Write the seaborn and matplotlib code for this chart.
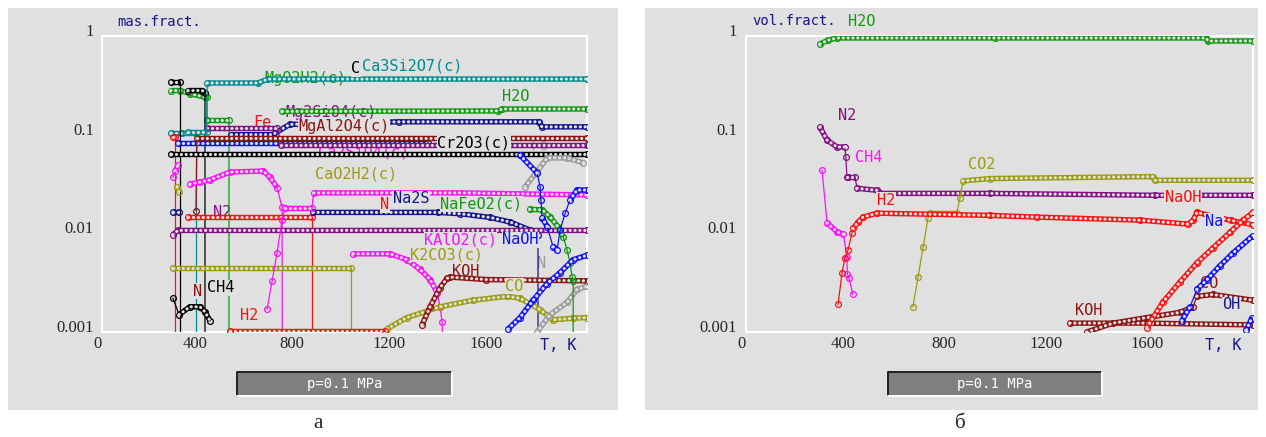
import numpy as np
import matplotlib
matplotlib.use("Agg")
import matplotlib.pyplot as plt
import seaborn as sns
from matplotlib.patches import Rectangle
from matplotlib.lines import Line2D
from matplotlib import transforms
from matplotlib.ticker import NullLocator

OFF = 1e-4   # below the axis: the phase has gone

# ---------------- а) mass fractions ----------------
a_ca3si2o7_T = [371, 448, 450, 660, 700, 2016]
a_ca3si2o7_v = [0.107, 0.107, 0.334, 0.334, 0.366, 0.366]
a_teal_T = [300, 345, 404, 404]
a_teal_v = [0.104, 0.104, 0.104, OFF]
a_mgo2h2_T = [300, 340, 380, 440, 448, 450, 540, 540]
a_mgo2h2_v = [0.28, 0.28, 0.26, 0.24, 0.24, 0.141, 0.141, OFF]
a_h2o_T = [760, 1650, 1665, 2016]
a_h2o_v = [0.172, 0.174, 0.182, 0.182]
a_c1_T = [300, 338, 338]
a_c1_v = [0.34, 0.34, OFF]
a_c2_T = [371, 430, 441, 441]
a_c2_v = [0.28, 0.28, 0.265, OFF]
a_cr2o3_T = [300, 2016]
a_cr2o3_v = [0.064, 0.064]
a_ch4_T = [309, 334, 379, 421, 441, 462]
a_ch4_v = [0.0022, 0.0015, 0.0018, 0.0018, 0.0016, 0.0013]
a_mgal2o4_T = [404, 408, 2016]
a_mgal2o4_v = [0.017, 0.0925, 0.0925]
a_mg2sio4_T = [450, 740, 755, 2016]
a_mg2sio4_v = [0.117, 0.117, 0.078, 0.078]
a_blue_T = [330, 1360]
a_blue_v = [0.082, 0.082]
a_navy_T = [550, 720, 790, 1240, 1820, 1830, 2016]
a_navy_v = [0.1, 0.1, 0.127, 0.135, 0.135, 0.12, 0.12]
a_fe_T = [309, 316, 316]
a_fe_v = [0.095, 0.095, OFF]
a_red_T = [371, 882, 882]
a_red_v = [0.0145, 0.0145, OFF]
a_navy2_T = [309, 334]
a_navy2_v = [0.0163, 0.0163]
a_na2s_T = [887, 1400, 1493, 1616, 1700, 1781, 1814, 1814]
a_na2s_v = [0.0163, 0.0163, 0.0158, 0.0145, 0.013, 0.0108, 0.0096, OFF]
a_purple_T = [309, 330, 2016]
a_purple_v = [0.0097, 0.0107, 0.0107]
a_k2co3_T = [309, 1043, 1043]
a_k2co3_v = [0.0045, 0.0045, OFF]
a_olive_T = [325, 334]
a_olive_v = [0.0295, 0.0263]
a_mag1_T = [309, 318, 330]
a_mag1_v = [0.037, 0.043, 0.049]
a_arc_T = [379, 420, 462, 544, 680, 709, 738, 759, 760]
a_arc_v = [0.0316, 0.033, 0.0348, 0.0418, 0.0428, 0.0372, 0.029, 0.0184, OFF]
a_mag2_T = [697, 718, 738, 759, 771, 882, 889, 1500, 2016]
a_mag2_v = [0.0017, 0.0033, 0.0063, 0.0137, 0.018, 0.018, 0.0257, 0.0257, 0.0245]
a_kalo2_T = [1052, 1204, 1274, 1328, 1369, 1398, 1410, 1419, 1422]
a_kalo2_v = [0.0062, 0.0062, 0.0054, 0.0043, 0.0034, 0.0025, 0.0018, 0.00125, OFF]
a_koh_T = [1336, 1369, 1410, 1439, 1452, 1600, 2016]
a_koh_v = [0.00118, 0.0018, 0.0028, 0.0035, 0.0036, 0.0034, 0.0033]
a_co_T = [1192, 1274, 1410, 1546, 1687, 1740, 1823, 1876, 1959, 2016]
a_co_v = [0.00108, 0.0014, 0.0018, 0.0021, 0.0023, 0.0022, 0.00168, 0.00133, 0.00138, 0.0014]
a_h2_T = [544, 1183]
a_h2_v = [0.00103, 0.00103]
a_naoh_T = [1691, 1740, 1794, 1852, 1905, 1959, 2016]
a_naoh_v = [0.00107, 0.0014, 0.0021, 0.0031, 0.004, 0.0054, 0.006]
a_na_T = [1740, 1810, 1823, 1826, 1831, 1852, 1876, 1893, 1905, 1926, 1946, 1975, 2016]
a_na_v = [0.062, 0.041, 0.0295, 0.0218, 0.0144, 0.0117, 0.0073, 0.0068, 0.0108, 0.016,
          0.0218, 0.0275, 0.0275]
a_nafeo2_T = [1780, 1831, 1864, 1897, 1918, 1934, 1946, 1955, 1959, 1959]
a_nafeo2_v = [0.0175, 0.0173, 0.0147, 0.0116, 0.0092, 0.0068, 0.005, 0.0036, 0.0033, OFF]
a_gray1_T = [1761, 1810, 1852, 1934, 2000]
a_gray1_v = [0.0296, 0.0425, 0.0581, 0.0581, 0.052]
a_gray2_T = [1810, 1864, 1934, 1975, 2016]
a_gray2_v = [0.001, 0.0015, 0.002, 0.0027, 0.0029]

# ---------------- б) volume fractions ----------------
b_h2o_T = [311, 343, 378, 1000, 1830, 1840, 2016]
b_h2o_v = [0.83, 0.91, 0.955, 0.955, 0.955, 0.89, 0.89]
b_n2_T = [311, 339, 378, 409, 413, 417, 421, 449, 457, 535, 547, 980, 1630, 2016]
b_n2_v = [0.119, 0.088, 0.075, 0.075, 0.059, 0.037, 0.037, 0.037, 0.0286, 0.0273,
          0.0254, 0.0254, 0.0243, 0.0243]
b_ch4_T = [319, 339, 378, 403, 417, 419, 425, 441]
b_ch4_v = [0.0437, 0.0127, 0.0104, 0.0098, 0.0057, 0.0039, 0.0035, 0.0024]
b_h2_T = [382, 398, 409, 421, 437, 441, 461, 480, 535, 980, 1165, 1571, 1760, 1780, 1795,
          1930, 2016]
b_h2_v = [0.0019, 0.004, 0.0056, 0.0067, 0.0100, 0.0112, 0.0129, 0.0146, 0.016, 0.0152,
          0.0146, 0.0136, 0.0124, 0.0135, 0.0163, 0.0135, 0.0122]
b_co2_T = [677, 697, 717, 736, 744, 850, 862, 874, 980, 1622, 1630, 2016]
b_co2_v = [0.0018, 0.0036, 0.0072, 0.0142, 0.016, 0.016, 0.0227, 0.034, 0.0359, 0.0376,
           0.0345, 0.0345]
b_naoh_T = [1598, 1661, 1728, 1795, 1858, 1925, 1976, 2016]
b_naoh_v = [0.00111, 0.002, 0.0032, 0.005, 0.0071, 0.0102, 0.0135, 0.0163]
b_koh_T = [1295, 1598, 2016]
b_koh_v = [0.00123, 0.00123, 0.00118]
b_co_T = [1362, 1465, 1598, 1728, 1780, 1795, 1858, 2016]
b_co_v = [0.001, 0.00123, 0.0014, 0.00158, 0.0018, 0.0023, 0.0024, 0.0021]
b_na_T = [1736, 1768, 1795, 1835, 1886, 1937, 2016]
b_na_v = [0.0013, 0.0018, 0.0027, 0.0034, 0.0047, 0.0063, 0.0095]
b_oh_T = [1990, 2012]
b_oh_v = [0.00105, 0.0014]

yticks_v = [0.001, 0.01, 0.1, 1]
yticks_lab = ["0.001", "0.01", "0.1", "1"]
xticks_T = [0, 400, 800, 1200, 1600]

BG = "#e0e0e0"
TEAL, GREEN, BLACK = "#008c8c", "#109a10", "#000000"
DRED, RED, MAG = "#8c1414", "#ff1010", "#ff10ff"
PURP, NAVY, BLUE = "#841084", "#14148c", "#1010ff"
OLIVE, GRAY = "#9c9c10", "#9a9a9a"
MONO = "DejaVu Sans Mono"

panel_a = [
    (a_teal_T, a_teal_v, TEAL), (a_mgo2h2_T, a_mgo2h2_v, GREEN),
    (a_c1_T, a_c1_v, BLACK), (a_c2_T, a_c2_v, BLACK),
    (a_fe_T, a_fe_v, RED), (a_blue_T, a_blue_v, BLUE),
    (a_navy_T, a_navy_v, NAVY), (a_mg2sio4_T, a_mg2sio4_v, PURP),
    (a_mgal2o4_T, a_mgal2o4_v, DRED), (a_ca3si2o7_T, a_ca3si2o7_v, TEAL),
    (a_h2o_T, a_h2o_v, GREEN), (a_cr2o3_T, a_cr2o3_v, BLACK),
    (a_mag1_T, a_mag1_v, MAG), (a_olive_T, a_olive_v, OLIVE),
    (a_arc_T, a_arc_v, MAG), (a_red_T, a_red_v, RED),
    (a_navy2_T, a_navy2_v, NAVY), (a_na2s_T, a_na2s_v, NAVY),
    (a_purple_T, a_purple_v, PURP), (a_k2co3_T, a_k2co3_v, OLIVE),
    (a_ch4_T, a_ch4_v, BLACK), (a_mag2_T, a_mag2_v, MAG),
    (a_kalo2_T, a_kalo2_v, MAG), (a_co_T, a_co_v, OLIVE),
    (a_koh_T, a_koh_v, DRED), (a_h2_T, a_h2_v, RED),
    (a_gray1_T, a_gray1_v, GRAY), (a_gray2_T, a_gray2_v, GRAY),
    (a_nafeo2_T, a_nafeo2_v, GREEN), (a_naoh_T, a_naoh_v, BLUE),
    (a_na_T, a_na_v, BLUE),
]
panel_b = [
    (b_h2o_T, b_h2o_v, GREEN), (b_n2_T, b_n2_v, PURP), (b_ch4_T, b_ch4_v, MAG),
    (b_co2_T, b_co2_v, OLIVE), (b_h2_T, b_h2_v, RED), (b_koh_T, b_koh_v, DRED),
    (b_co_T, b_co_v, DRED), (b_naoh_T, b_naoh_v, RED), (b_na_T, b_na_v, BLUE),
    (b_oh_T, b_oh_v, BLUE),
]

# text, T, value, colour, drawn under the curves
labels_a = [
    ("Ca3Si2O7(c)", 1089, 0.497, TEAL, False), ("C", 1045, 0.463, BLACK, False),
    ("MgO2H2(c)", 685, 0.375, GREEN, True), ("H2O", 1666, 0.241, GREEN, False),
    ("Mg2SiO4(c)", 771, 0.166, PURP, True), ("MgAl2O4(c)", 825, 0.12, DRED, False),
    ("Fe", 639, 0.134, RED, True), ("Cr2O3(c)", 1398, 0.0825, BLACK, False),
    ("Fe", 1781, 0.077, GRAY, True), ("Ca2SiO4(c)", 907, 0.067, MAG, True),
    ("CaO2H2(c)", 895, 0.04, OLIVE, False), ("Na2S", 1216, 0.0223, NAVY, False),
    ("N", 1163, 0.0194, RED, False), ("NaFeO2(c)", 1410, 0.0198, GREEN, False),
    ("N2", 474, 0.0162, PURP, True), ("KAlO2(c)", 1344, 0.0086, MAG, False),
    ("NaOH", 1666, 0.0086, BLUE, False), ("K2CO3(c)", 1287, 0.0061, OLIVE, False),
    ("KOH", 1460, 0.0041, DRED, True), ("CO", 1678, 0.0029, OLIVE, False),
    ("N", 1810, 0.005, GRAY, True), ("N", 392, 0.0026, DRED, False),
    ("CH4", 449, 0.0028, BLACK, False), ("H2", 586, 0.00146, RED, False),
]
labels_b = [
    ("H2O", 421, 1.387, GREEN, False), ("N2", 382, 0.158, PURP, False),
    ("CH4", 449, 0.059, MAG, False), ("CO2", 894, 0.05, OLIVE, False),
    ("H2", 535, 0.0216, RED, False), ("NaOH", 1669, 0.0233, RED, False),
    ("Na", 1827, 0.0132, BLUE, False), ("KOH", 1315, 0.00164, DRED, False),
    ("CO", 1807, 0.0031, DRED, True), ("OH", 1894, 0.0019, NAVY, False),
]

sns.set_style("white")
plt.rcParams["lines.scale_dashes"] = False

W, H = 1266, 437
fig = plt.figure(figsize=(W / 100, H / 100), dpi=100)
fig.patch.set_facecolor("white")


def fx(x):
    return x / W


def fy(y):
    return 1 - y / H


def draw_series(ax, T, v, color):
    T = np.asarray(T, float)
    v = np.asarray(v, float)
    sns.lineplot(x=T, y=v, sort=False, estimator=None, ax=ax, color=color, lw=0.9,
                 marker="o", ms=4.2, mfc="none", mec=color, mew=0.9, zorder=3)
    # near-flat runs look like a chain of little circles in the original
    dT = np.diff(T)
    dl = np.abs(np.diff(np.log10(v)))
    with np.errstate(divide="ignore", invalid="ignore"):
        step = np.where(dT > 0, dl / dT * 20 * 98.6, np.inf)
    gentle = step < 12
    i = 0
    while i < len(gentle):
        if not gentle[i]:
            i += 1
            continue
        j = i
        while j < len(gentle) and gentle[j]:
            j += 1
        ax.plot(T[i:j + 1], v[i:j + 1], color=color, lw=3.9,
                solid_capstyle="butt", zorder=3)
        ax.plot(T[i:j + 1], v[i:j + 1], color=BG, lw=2.2, ls=(0, (0.2, 3.3)),
                dash_capstyle="round", zorder=3)
        i = j


def setup(ax):
    ax.set_facecolor(BG)
    ax.set_yscale("log")
    ax.set_xlim(0, 2016)
    ax.set_ylim(1e-3, 1)
    for s in ax.spines.values():
        s.set_visible(False)
    ax.add_patch(Rectangle((18, 0), 1998, 1, transform=ax.get_xaxis_transform(),
                           fill=False, ec="white", lw=1.5, zorder=1, clip_on=False))
    ax.set_yticks(yticks_v)
    ax.set_yticklabels(yticks_lab, family="Liberation Serif", fontsize=12)
    ax.yaxis.set_minor_locator(NullLocator())
    ax.set_xticks(xticks_T)
    ax.set_xticklabels([str(t) for t in xticks_T], family="Liberation Serif", fontsize=12)
    ax.tick_params(length=0, pad=3)
    ax.set_xlabel("")
    ax.set_ylabel("")
    shift = transforms.ScaledTranslation(0, 6 / 100, fig.dpi_scale_trans)
    for lab in ax.get_yticklabels():
        lab.set_transform(lab.get_transform() + shift)


def put_labels(ax, labels):
    for text, t, val, color, under in labels:
        kw = dict(color=color, fontsize=11, family=MONO, ha="left", va="center",
                  clip_on=False)
        if under:
            ax.text(t, val, text, zorder=2, **kw)
        else:
            ax.text(t, val, text, zorder=5,
                    bbox=dict(fc=BG, ec="none", pad=0.3), **kw)


def pressure_box(x0, x1, y0, y1):
    fig.add_artist(Rectangle((fx(x0), fy(y1)), fx(x1) - fx(x0), fy(y0) - fy(y1),
                             transform=fig.transFigure, fc="#7f7f7f", ec="none"))
    fig.add_artist(Line2D([fx(x0), fx(x0), fx(x1)], [fy(y1), fy(y0), fy(y0)],
                          transform=fig.transFigure, color="#202020", lw=1.4))
    fig.add_artist(Line2D([fx(x0), fx(x1), fx(x1)], [fy(y1), fy(y1), fy(y0)],
                          transform=fig.transFigure, color="white", lw=1.4))
    fig.text(fx((x0 + x1) / 2), fy((y0 + y1) / 2), "p=0.1 MPa", color="white",
             family=MONO, fontsize=10, ha="center", va="center")


# grey panels
for x0, x1 in [(8, 618), (645, 1258)]:
    fig.add_artist(Rectangle((fx(x0), fy(410)), fx(x1) - fx(x0), fy(8) - fy(410),
                             transform=fig.transFigure, fc=BG, ec="none", zorder=-1))

ax_a = fig.add_axes([fx(98), fy(332), fx(587) - fx(98), fy(36) - fy(332)])
ax_b = fig.add_axes([fx(741), fy(332), fx(1253) - fx(741), fy(36) - fy(332)])

for ax, series, labels in [(ax_a, panel_a, labels_a), (ax_b, panel_b, labels_b)]:
    setup(ax)
    for T, v, c in series:
        draw_series(ax, T, v, c)
    put_labels(ax, labels)
    setup(ax)

fig.text(fx(117), fy(22), "mas.fract.", color=NAVY, family=MONO, fontsize=10, va="center")
fig.text(fx(752), fy(21), "vol.fract.", color=NAVY, family=MONO, fontsize=10, va="center")
fig.text(fx(540), fy(345), "T, K", color=NAVY, family=MONO, fontsize=11, va="center")
fig.text(fx(1205), fy(345), "T, K", color=NAVY, family=MONO, fontsize=11, va="center")

pressure_box(237, 452, 372, 396)
pressure_box(888, 1102, 372, 396)

fig.text(fx(318), fy(423), "а", family="Liberation Serif", fontsize=15,
         ha="center", va="center")
fig.text(fx(960), fy(423), "б", family="Liberation Serif", fontsize=15,
         ha="center", va="center")

fig.savefig("out.png", dpi=100, facecolor="white")
